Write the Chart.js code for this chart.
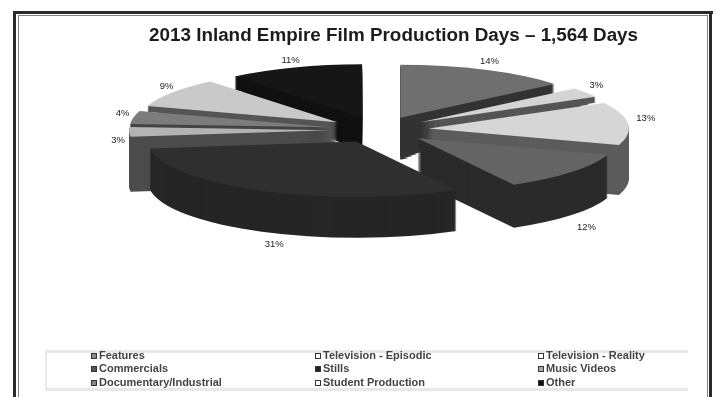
<!DOCTYPE html>
<html>
<head>
<meta charset="utf-8">
<script src="https://cdn.jsdelivr.net/npm/chart.js@4"></script>
<style>
html, body { margin: 0; padding: 0; background: #fff; overflow: hidden; }
#wrap { position: relative; width: 717px; height: 397px; }
#chart { display: block; filter: blur(0.5px); }
</style>
</head>
<body>
<div id="wrap"><canvas id="chart" width="717" height="397"></canvas></div>
<script>
const titleText = '2013 Inland Empire Film Production Days \u2013 1,564 Days';
const categories = ['Features', 'Television - Episodic', 'Television - Reality', 'Commercials', 'Stills', 'Music Videos', 'Documentary/Industrial', 'Student Production', 'Other'];
const shares = [14, 3, 13, 12, 31, 3, 4, 9, 11];

// looks of the slices, in the same order as the categories
const topColors = ['#6f6f6f', '#d4d4d4', '#d6d6d6', '#646464', '#2f2f2f', '#b4b4b4', '#7c7c7c', '#c9c9c9', '#161616'];
const sideColors = ['#333333', '#555555', '#5c5c5c', '#2b2b2b', '#262626', '#4c4c4c', '#444444', '#555555', '#111111'];
const rimDepth = [11, 6, 50, 43, 41, 55, 10, 6, 13];
const apexDepth = [42, 30, 50, 43, 41, 55, 26, 24, 36];
const sliceScale = [1, 1, 1, 1, 1.04, 1, 1, 1, 1];
const labelNudgeX = [-2, -1, 4, 4, 15, 3, 3, 6, 1];
const labelNudgeY = [-5, -5, -5, 53, 52, 8, -3, -4, -4];
const legendMarks = ['#8a8a8a', '#ffffff', '#ffffff', '#555555', '#222222', '#aaaaaa', '#888888', '#ffffff', '#111111'];

const squash = 0.265;
const explode = 50;
const pieShift = -24; // chart area is wider than the pie so the title does not get squeezed

// slices are pushed out and flattened here, offset option also grows small slices
const piePlugin = {
    id: 'flatPie',
    beforeDatasetDraw(chart, args) {
        const ctx = chart.ctx;
        const arcs = args.meta.data;
        const order = arcs.map((a, i) => i).sort((p, q) => midY(arcs[p]) - midY(arcs[q]));
        order.forEach(i => {
            const arc = arcs[i];
            const own = arc.options;
            arc.options = Object.create(own, { backgroundColor: { value: sideColors[i] } });
            for (let d = apexDepth[i]; d > 0; d--) {
                // below the rim the wall narrows in to the apex
                const past = d > rimDepth[i] ? (d - rimDepth[i]) / (apexDepth[i] - rimDepth[i]) : 0;
                drawFlat(ctx, arc, d, (1 - past * 0.95) * sliceScale[i]);
            }
            arc.options = own;
            drawFlat(ctx, arc, 0, sliceScale[i]);
        });
        return false;
    },
    afterDraw(chart) {
        const ctx = chart.ctx;
        const arcs = chart.getDatasetMeta(0).data;
        ctx.save();
        ctx.textAlign = 'center';
        ctx.textBaseline = 'middle';
        ctx.font = '9.5px "Liberation Sans"';
        ctx.fillStyle = '#222';
        arcs.forEach((arc, i) => {
            const mid = (arc.startAngle + arc.endAngle) / 2;
            const reach = arc.outerRadius + explode + 14;
            const x = arc.x + pieShift + Math.cos(mid) * reach + labelNudgeX[i];
            const y = arc.y + Math.sin(mid) * reach * squash + labelNudgeY[i];
            ctx.fillText(shares[i] + '%', x, y);
        });

        // legend box, three columns
        ctx.fillStyle = '#e8e8e8';
        ctx.fillRect(45, 350, 643, 3);
        ctx.fillRect(45, 388, 643, 3);
        ctx.fillRect(45, 350, 2, 41);
        ctx.font = 'bold 11px "Liberation Sans"';
        ctx.textAlign = 'left';
        const columns = [91, 315, 538];
        const rows = [356, 369, 383];
        categories.forEach((name, i) => {
            const x = columns[i % 3];
            const y = rows[Math.floor(i / 3)];
            ctx.fillStyle = legendMarks[i];
            ctx.fillRect(x, y - 3, 6, 6);
            ctx.strokeStyle = '#333';
            ctx.lineWidth = 1;
            ctx.strokeRect(x + 0.5, y - 2.5, 5, 5);
            ctx.fillStyle = '#444';
            ctx.fillText(name, x + 8, y);
        });

        // scanned page frame
        ctx.fillStyle = '#2a2a2a';
        ctx.fillRect(13, 11, 700, 3);
        ctx.fillRect(13, 11, 3, 386);
        ctx.fillRect(709, 11, 3, 386);
        ctx.fillStyle = '#808080';
        ctx.fillRect(18, 15, 690, 1);
        ctx.fillRect(18, 15, 1, 382);
        ctx.fillRect(707, 15, 1, 382);
        ctx.restore();
    }
};

function midY(arc) {
    return Math.sin((arc.startAngle + arc.endAngle) / 2);
}

function drawFlat(ctx, arc, depth, shrink) {
    const mid = (arc.startAngle + arc.endAngle) / 2;
    ctx.save();
    ctx.translate(arc.x + pieShift, arc.y + depth);
    ctx.scale(1, squash);
    ctx.translate(Math.cos(mid) * explode, Math.sin(mid) * explode);
    ctx.scale(shrink, shrink);
    ctx.translate(-arc.x, -arc.y);
    arc.draw(ctx);
    ctx.restore();
}

new Chart(document.getElementById('chart'), {
    type: 'pie',
    data: {
        labels: categories,
        datasets: [{
            data: shares,
            backgroundColor: topColors,
            borderWidth: 0
        }]
    },
    options: {
        responsive: false,
        animation: false,
        radius: 200,
        layout: { padding: { left: 149, right: 60, top: 24, bottom: 184 } },
        plugins: {
            legend: { display: false },
            tooltip: { enabled: false },
            title: {
                display: true,
                text: titleText,
                align: 'start',
                color: '#1c1c1c',
                font: { family: '"Liberation Sans"', size: 18.85, weight: 'bold' },
                padding: 0
            }
        }
    },
    plugins: [piePlugin]
});
</script>
</body>
</html>
